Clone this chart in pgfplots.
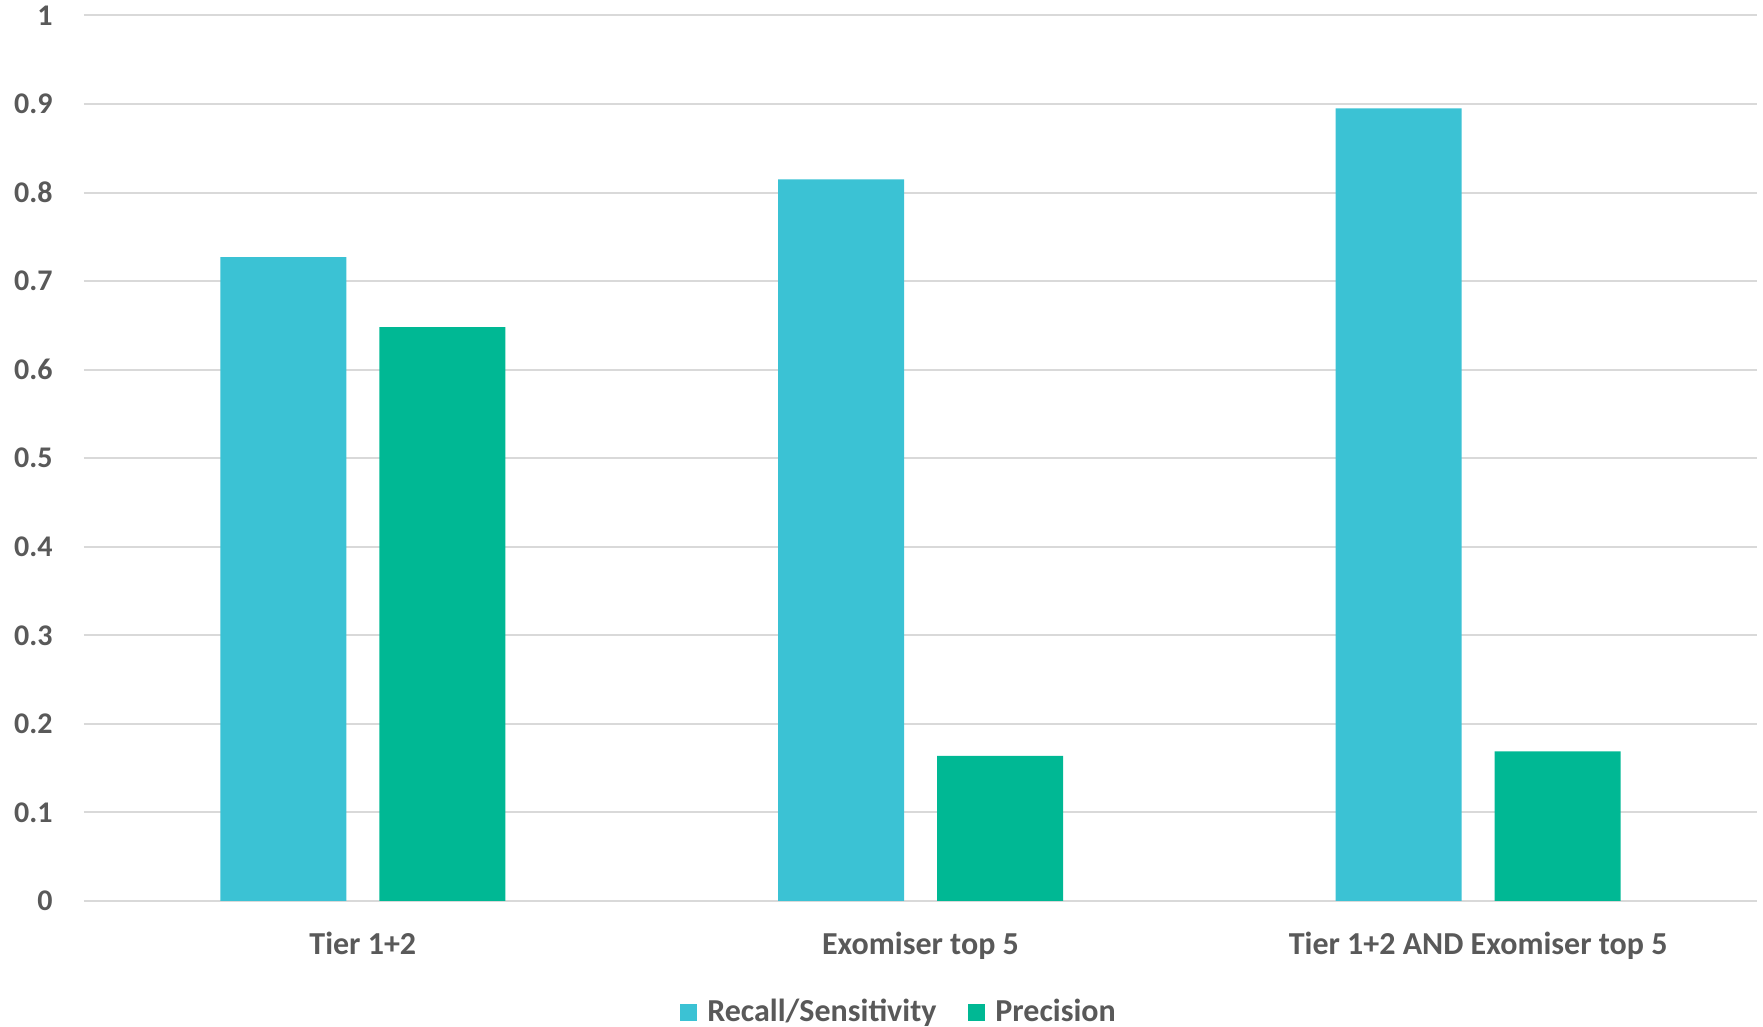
\documentclass[border=0pt]{standalone}
\usepackage{pgfplots}
\pgfplotsset{compat=1.18}
\usepackage{fontspec}
\setmainfont{Carlito}
\definecolor{recall}{HTML}{3BC2D4}
\definecolor{prec}{HTML}{00B894}
\definecolor{txt}{HTML}{595959}
\definecolor{gridc}{HTML}{D9D9D9}
\begin{document}
\begin{tikzpicture}
\path[use as bounding box] (-42pt,-63pt) rectangle (839.5pt,450.5pt);
\begin{axis}[
  at={(0pt,0pt)}, anchor=south west,
  scale only axis, width=836.5pt, height=442.75pt,
  xmin=-0.5, xmax=2.5, ymin=0, ymax=1,
  ybar, bar width=63pt,
  xtick={0,1,2},
  xticklabels={Tier 1+2, Exomiser top 5, Tier 1+2 AND Exomiser top 5},
  ytick={0,0.1,0.2,0.3,0.4,0.5,0.6,0.7,0.8,0.9,1},
  yticklabels={0,0.1,0.2,0.3,0.4,0.5,0.6,0.7,0.8,0.9,1},
  /pgf/number format/assume math mode=true,
  major tick length=0pt,
  axis line style={draw=none},
  ymajorgrids, grid style={draw=gridc, line width=1pt},
  tick label style={font=\fontsize{15}{18}\selectfont\bfseries, text=txt},
  yticklabel style={anchor=east, inner sep=0pt, xshift=-15.5pt},
  xticklabel style={anchor=north, inner sep=0pt, yshift=-15.2pt, font=\fontsize{16}{19}\selectfont\bfseries},
  legend style={at={(0.4878,-0.1256)}, anchor=center, draw=none, fill=none,
    font=\fontsize{16}{19}\selectfont\bfseries, text=txt,
    /tikz/every even column/.append style={column sep=14pt}},
  legend columns=2,
  legend cell align=left,
]
\addplot[fill=recall, draw=none, bar shift=-39.75pt,
  legend image code/.code={\fill[recall] (0pt,-4.25pt) rectangle (8.5pt,4.25pt); \path (11.5pt,0pt);}]
  coordinates {(0,0.727) (1,0.815) (2,0.895)};
\addplot[fill=prec, draw=none, bar shift=39.75pt,
  legend image code/.code={\fill[prec] (0pt,-4.25pt) rectangle (8.5pt,4.25pt); \path (11.5pt,0pt);}]
  coordinates {(0,0.648) (1,0.164) (2,0.169)};
\legend{Recall/Sensitivity, Precision}
\end{axis}
\end{tikzpicture}
\end{document}
